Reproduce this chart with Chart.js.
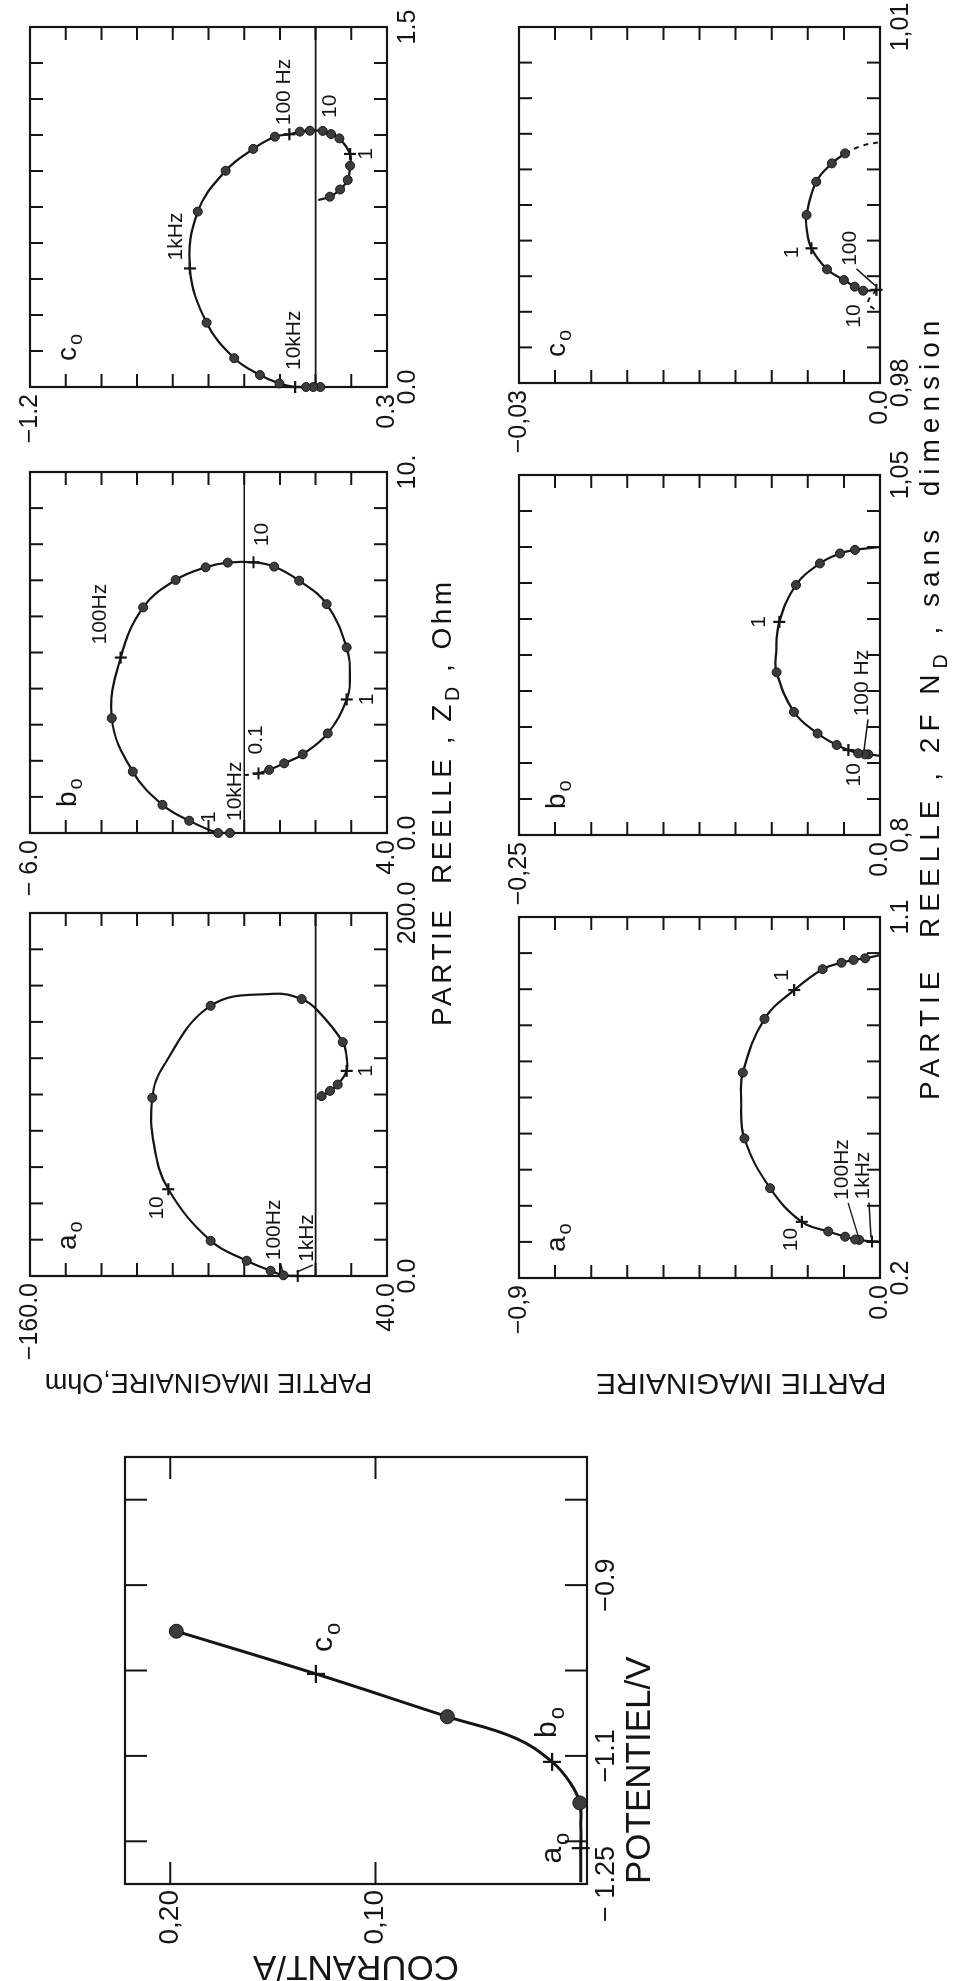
<!DOCTYPE html>
<html lang="fr">
<head>
<meta charset="utf-8">
<title>Courant et diagrammes d'impedance</title>
<script src="https://cdn.jsdelivr.net/npm/chart.js@4.4.1/dist/chart.umd.min.js"></script>
<style>
  html, body { margin: 0; padding: 0; background: #fff; }
  body { width: 958px; height: 1981px; overflow: hidden; position: relative; }
  /* the whole figure is laid out landscape, then turned a quarter left like the scan */
  #fig { position: absolute; left: 0; top: 0; width: 1981px; height: 958px;
         transform-origin: 0 0; transform: translate(0, 1981px) rotate(-90deg);
         font-family: "Liberation Sans", Arial, sans-serif; color: #111; }
  #fig canvas { position: absolute; }
  .xtitle { position: absolute; white-space: nowrap; line-height: 34px; font-size: 28px; }
  .xtitle sub { font-size: 70%; vertical-align: -0.4em; line-height: 0; }
  #zTitle { left: 955px; top: 425px; letter-spacing: 3.5px; }
  #nTitle { left: 881px; top: 913px; letter-spacing: 6px; }
</style>
</head>
<body>
<div id="fig">
  <canvas id="cour"></canvas>
  <canvas id="za"></canvas>
  <canvas id="zb"></canvas>
  <canvas id="zc"></canvas>
  <canvas id="na"></canvas>
  <canvas id="nb"></canvas>
  <canvas id="nc"></canvas>
  <div class="xtitle" id="zTitle">PARTIE&nbsp; REELLE , Z<sub>D</sub> , Ohm</div>
  <div class="xtitle" id="nTitle">PARTIE&nbsp; REELLE , 2F N<sub>D</sub> , sans&nbsp; dimension</div>
</div>
<script>
// ---- courant / potentiel
const courPot = [-1.248, -1.208, -1.18, -1.155, -1.132, -1.107, -1.079, -1.054, -1.004, -0.954];
const courCur = [0.0, 0.0, 0.0, 0.0005, 0.005, 0.014, 0.032, 0.065, 0.129, 0.197];
const courKind = ['', '+', '', 'o', '', '+', '', 'o', '+', 'o'];
const courTag = ['', 'a', '', '', '', 'b', '', '', 'c', ''];
const courXTicks = [-1.25, -1.2, -1.1, -1.0, -0.9, -0.8];
const courXLab = ['\u2212 1.25', '', '\u22121.1', '', '\u22120.9', ''];
const courYTicks = [0.1, 0.2];
const courYLab = ['0,10', '0,20'];

// ---- impedance Z_D (partie reelle, partie imaginaire)
const zaRe = [0, 0.4, 2.9, 8.4, 19.4, 47.8, 72, 98.2, 115.6, 148.9, 155.5, 152.6, 146.7, 128.9, 120.2, 113.0, 105.5, 102.0, 99.1, 97.7];
const zaIm = [-10, -18, -25.2, -38.6, -58.8, -82.5, -90.5, -91.5, -85.3, -58.8, -23.7, -7.8, 0.7, 15.2, 17.4, 17.4, 12.4, 8.1, 3.4, 0.6];
const zaKind = ['+', 'o', 'o', 'o', 'o', '+', '', 'o', '', 'o', '', 'o', '', 'o', '', '+', 'o', 'o', 'o', ''];
const zaFreq = ['1kHz', '100Hz', '', '', '', '10', '', '', '', '', '', '', '', '', '', '1', '', '', '', ''];

const zbRe = [0.0, 0.0, 0.34, 0.78, 1.70, 3.18, 4.86, 6.25, 7.01, 7.36, 7.49, 7.50, 7.38, 6.99, 6.34, 5.14, 4.33, 3.70, 2.76, 2.18, 1.93, 1.75, 1.65];
const zbIm = [-0.40, -0.73, -1.54, -2.29, -3.12, -3.71, -3.46, -2.83, -1.92, -1.08, -0.46, 0.26, 0.84, 1.54, 2.31, 2.87, 2.96, 2.87, 2.34, 1.64, 1.12, 0.70, 0.40];
const zbKind = ['o', 'o', 'o', 'o', 'o', 'o', '+', 'o', 'o', 'o', 'o', '+', 'o', 'o', 'o', 'o', '', '+', 'o', 'o', 'o', 'o', '+'];
const zbFreq = ['10kHz', '1', '', '', '', '', '100Hz', '', '', '', '', '10', '', '', '', '', '', '1', '', '', '', '', '0.1'];
const zbDashRe = [1.65, 1.60];
const zbDashIm = [0.40, 0.0];

const zcRe = [0.0, 0.0, 0.0, 0.0, 0.015, 0.05, 0.12, 0.268, 0.494, 0.731, 0.901, 0.992, 1.043, 1.053, 1.064, 1.068, 1.067, 1.054, 1.036, 0.971, 0.922, 0.8625, 0.823, 0.793, 0.779];
const zcIm = [0.02, -0.01, -0.04, -0.086, -0.152, -0.234, -0.342, -0.458, -0.528, -0.495, -0.378, -0.262, -0.171, -0.11, -0.066, -0.024, 0.030, 0.065, 0.100, 0.145, 0.145, 0.135, 0.103, 0.060, 0.011];
const zcKind = ['o', 'o', 'o', '+', 'o', 'o', 'o', 'o', '+', 'o', 'o', 'o', 'o', '+', 'o', 'o', 'o', 'o', 'o', '+', 'o', 'o', 'o', 'o', ''];
const zcFreq = ['', '', '', '10kHz', '', '', '', '', '1kHz', '', '', '', '', '100 Hz', '', '', '10', '', '', '1', '', '', '', '', ''];

// ---- fonction de transfert 2F N_D
const naRe = [0.290, 0.291, 0.295, 0.296, 0.303, 0.316, 0.340, 0.424, 0.548, 0.644, 0.712, 0.846, 0.918, 0.970, 0.986, 0.993, 0.997, 1.005];
const naIm = [0.0, -0.020, -0.052, -0.062, -0.087, -0.129, -0.195, -0.274, -0.338, -0.346, -0.342, -0.288, -0.214, -0.143, -0.096, -0.066, -0.037, 0.0];
const naKind = ['', '+', 'o', 'o', 'o', 'o', '+', 'o', 'o', '', 'o', 'o', '+', 'o', 'o', 'o', 'o', ''];
const naFreq = ['', '1kHz', '100Hz', '', '', '', '10', '', '', '', '', '', '1', '', '', '', '', ''];

const nbRe = [0.855, 0.856, 0.856, 0.8567, 0.859, 0.8625, 0.8705, 0.8855, 0.913, 0.926, 0.948, 0.9736, 0.9886, 0.9955, 0.998, 1.000];
const nbIm = [0.0, -0.0081, -0.0104, -0.0151, -0.0219, -0.0300, -0.0432, -0.0596, -0.0716, -0.0720, -0.0697, -0.0582, -0.0416, -0.0277, -0.0173, 0.0];
const nbKind = ['', 'o', 'o', 'o', '+', 'o', 'o', 'o', 'o', '', '+', 'o', 'o', 'o', 'o', ''];
const nbFreq = ['', '', '100 Hz', '', '10', '', '', '', '', '', '1', '', '', '', '', ''];

const ncRe = [0.98785, 0.98778, 0.98812, 0.98868, 0.98958, 0.99135, 0.9930, 0.99416, 0.99696, 0.99851, 0.99935];
const ncIm = [-0.0003, -0.0014, -0.0021, -0.0030, -0.0044, -0.0057, -0.0061, -0.0061, -0.0053, -0.0040, -0.0029];
const ncKind = ['+', 'o', 'o', 'o', 'o', '+', '', 'o', 'o', 'o', 'o'];
const ncFreq = ['100', '', '', '', '', '1', '', '', '', '', ''];
const ncDashRe = [0.99935, 1.0000, 1.0003];
const ncDashIm = [-0.0029, -0.0015, 0.0];
const ncLoopRe = [0.98785, 0.9868, 0.98615];
const ncLoopIm = [-0.0003, -0.0010, -0.0004];
const ncLoopFreq = ['', '', '10'];

// ---- axes: tick positions and end labels
const zaXTicks = [0, 20, 40, 60, 80, 100, 120, 140, 160, 180, 200];
const zaYTicks = [-160, -140, -120, -100, -80, -60, -40, -20, 0, 20, 40];
const zbXTicks = [0, 1, 2, 3, 4, 5, 6, 7, 8, 9, 10];
const zbYTicks = [-6, -5, -4, -3, -2, -1, 0, 1, 2, 3, 4];
const zcXTicks = [0, 0.15, 0.3, 0.45, 0.6, 0.75, 0.9, 1.05, 1.2, 1.35, 1.5];
const zcYTicks = [-1.2, -1.05, -0.9, -0.75, -0.6, -0.45, -0.3, -0.15, 0, 0.15, 0.3];
const naXTicks = [0.2, 0.29, 0.38, 0.47, 0.56, 0.65, 0.74, 0.83, 0.92, 1.01, 1.1];
const naYTicks = [-0.9, -0.81, -0.72, -0.63, -0.54, -0.45, -0.36, -0.27, -0.18, -0.09, 0];
const nbXTicks = [0.8, 0.825, 0.85, 0.875, 0.9, 0.925, 0.95, 0.975, 1.0, 1.025, 1.05];
const nbYTicks = [-0.25, -0.225, -0.2, -0.175, -0.15, -0.125, -0.1, -0.075, -0.05, -0.025, 0];
const ncXTicks = [0.98, 0.983, 0.986, 0.989, 0.992, 0.995, 0.998, 1.001, 1.004, 1.007, 1.01];
const ncYTicks = [-0.03, -0.027, -0.024, -0.021, -0.018, -0.015, -0.012, -0.009, -0.006, -0.003, 0];
const zaXEnds = ['0.0', '200.0'], zaYEnds = ['\u2212160.0', '40.0'];
const zbXEnds = ['0.0', '10.'], zbYEnds = ['\u2212 6.0', '4.0'];
const zcXEnds = ['0.0', '1.5'], zcYEnds = ['\u22121.2', '0.3'];
const naXEnds = ['0.2', '1.1'], naYEnds = ['\u22120,9', '0.0'];
const nbXEnds = ['0,8', '1,05'], nbYEnds = ['\u22120,25', '0.0'];
const ncXEnds = ['0,98', '1,01'], ncYEnds = ['\u22120,03', '0.0'];

// ---- placement (landscape frame, px) and label offsets
const G = {
  cour: {x0: 97, x1: 524, y0: 125, y1: 587, L: 103, T: 30, R: 20, B: 74},
  za: {x0: 705, x1: 1068, y0: 30, y1: 387, L: 122, T: 30, R: 45, B: 50},
  zb: {x0: 1148, x1: 1509, y0: 30, y1: 387, L: 70, T: 30, R: 45, B: 50},
  zc: {x0: 1594, x1: 1954, y0: 30, y1: 387, L: 70, T: 30, R: 45, B: 50},
  na: {x0: 703, x1: 1064, y0: 519, y1: 880, L: 122, T: 30, R: 45, B: 50},
  nb: {x0: 1146, x1: 1506, y0: 519, y1: 880, L: 70, T: 30, R: 45, B: 50},
  nc: {x0: 1598, x1: 1954, y0: 519, y1: 880, L: 70, T: 30, R: 45, B: 50}
};
const OFF = {
  cour: {1: [0, -28, 'center'], 5: [24, -4, 'left'], 8: [22, 8, 'left']},
  za: {0: [14, 9, 'left', 1], 1: [15, -9, 'left', 1], 5: [-7, -11, 'right'], 15: [0, 20, 'center']},
  zb: {0: [12, 5, 'left'], 1: [10, -9, 'left'], 6: [13, -20, 'left'], 11: [16, 9, 'left'], 17: [0, 21, 'center'], 22: [19, -2, 'left']},
  zc: {3: [17, -1, 'left'], 8: [8, -14, 'left'], 13: [9, -5, 'left'], 16: [13, 7, 'left'], 19: [0, 16, 'center']},
  na: {1: [42, -9, 'left', 1], 2: [40, -17, 'left', 1], 6: [-6, -11, 'right'], 12: [9, -12, 'left']},
  nb: {2: [38, -3, 'left', 1], 4: [-13, 6, 'right'], 10: [0, -20, 'center']},
  nc: {0: [24, -26, 'left', 1], 5: [-4, -19, 'center']},
  ncLoop: {2: [-6, -21, 'center']}
};

const INK = '#151515', DOT = '#3c3c3c';
const FONT = '"Liberation Sans", Arial, sans-serif';
Chart.defaults.font.family = FONT;
Chart.defaults.color = INK;

function pts(xs, ys) { return xs.map((x, i) => ({x: x, y: ys[i]})); }

function notesFor(xs, ys, texts, off, tag) {
  const out = [];
  texts.forEach((t, i) => {
    if (!t) return;
    const o = off[i] || [8, -10, 'left'];
    out.push({x: xs[i], y: ys[i], text: t, dx: o[0], dy: o[1], align: o[2], leader: !!o[3], tag: !!tag});
  });
  return out;
}

// letter with a small "o" underneath-right, like a0 b0 c0
function drawTag(ctx, letter, x, y, size, align) {
  ctx.font = size + 'px ' + FONT;
  const w1 = ctx.measureText(letter).width;
  ctx.font = Math.round(size * 0.72) + 'px ' + FONT;
  const w2 = ctx.measureText('o').width;
  let left = x;
  if (align === 'center') left = x - (w1 + w2 + 2) / 2;
  if (align === 'right') left = x - (w1 + w2 + 2);
  ctx.textAlign = 'left';
  ctx.font = size + 'px ' + FONT;
  ctx.fillText(letter, left, y);
  ctx.font = Math.round(size * 0.72) + 'px ' + FONT;
  ctx.fillText('o', left + w1 + 2, y + size * 0.32);
}

function framePlugin(o) {
  return {
    id: 'frame',
    beforeDatasetsDraw(chart) {
      const ctx = chart.ctx, a = chart.chartArea, sx = chart.scales.x, sy = chart.scales.y;
      ctx.save();
      ctx.strokeStyle = INK;
      if (o.zero) {
        const py = sy.getPixelForValue(0);
        ctx.lineWidth = 1.6;
        ctx.beginPath(); ctx.moveTo(a.left, py); ctx.lineTo(a.right, py); ctx.stroke();
      }
      ctx.lineWidth = 2.2;
      ctx.strokeRect(a.left, a.top, a.right - a.left, a.bottom - a.top);
      ctx.lineWidth = 2;
      ctx.beginPath();
      const tl = o.tick;
      const edge = (v, s) => Math.abs(v - s.min) < 1e-9 || Math.abs(v - s.max) < 1e-9;
      sx.ticks.forEach(t => {
        if (edge(t.value, sx)) return;
        const px = sx.getPixelForValue(t.value);
        ctx.moveTo(px, a.bottom); ctx.lineTo(px, a.bottom - tl);
        ctx.moveTo(px, a.top); ctx.lineTo(px, a.top + tl);
      });
      sy.ticks.forEach(t => {
        if (edge(t.value, sy)) return;
        const py = sy.getPixelForValue(t.value);
        ctx.moveTo(a.left, py); ctx.lineTo(a.left + tl, py);
        ctx.moveTo(a.right, py); ctx.lineTo(a.right - tl, py);
      });
      ctx.stroke();
      ctx.restore();
    },
    afterDatasetsDraw(chart) {
      const ctx = chart.ctx, a = chart.chartArea, sx = chart.scales.x, sy = chart.scales.y;
      ctx.save();
      ctx.fillStyle = INK; ctx.strokeStyle = INK; ctx.textBaseline = 'middle';
      if (o.tag) drawTag(ctx, o.tag, a.left + 26, a.top + 38, 28, 'left');
      (o.notes || []).forEach(n => {
        const px = sx.getPixelForValue(n.x), py = sy.getPixelForValue(n.y);
        const tx = px + n.dx, ty = py + n.dy;
        if (n.tag) {
          drawTag(ctx, n.text, tx, ty, o.tagSize || 30, n.align);
        } else {
          ctx.font = (o.noteSize || 21) + 'px ' + FONT;
          ctx.textAlign = n.align;
          ctx.fillText(n.text, tx, ty);
        }
        if (n.leader) {
          ctx.lineWidth = 1.5;
          ctx.beginPath(); ctx.moveTo(px + 4, py - 1); ctx.lineTo(tx - 3, ty + 6); ctx.stroke();
        }
      });
      ctx.restore();
    }
  };
}

function curve(xs, ys, kind, dotR, crossR, lw) {
  return {
    data: pts(xs, ys), showLine: true, tension: 0.4, borderColor: INK, borderWidth: lw, clip: 14,
    pointStyle: kind.map(k => k === '+' ? 'cross' : 'circle'),
    pointRadius: kind.map(k => k === 'o' ? dotR : (k === '+' ? crossR : 0)),
    pointBorderWidth: kind.map(k => k === '+' ? 2.2 : 1),
    pointBackgroundColor: DOT, pointBorderColor: INK, pointHoverRadius: 0
  };
}
function dashed(xs, ys) {
  return {data: pts(xs, ys), showLine: true, tension: 0.4, borderColor: INK, borderWidth: 2,
          borderDash: [5, 5], pointRadius: 0, pointHoverRadius: 0, clip: 14};
}

function axis(s, size, which) {
  return {
    type: 'linear', min: s.min, max: s.max, reverse: !!s.reverse,
    afterBuildTicks: sc => { sc.ticks = s.ticks.map(v => ({value: v})); },
    afterFit: sc => { if (which === 'x') sc.height = size; else sc.width = size; },
    grid: {display: false, drawTicks: false},
    border: {display: false},
    ticks: {
      autoSkip: false, maxRotation: 0, minRotation: 0, padding: s.pad, color: INK,
      font: {size: s.fs},
      callback: (v, i) => s.labels ? s.labels[i] : (i === 0 ? s.ends[0] : (i === s.ticks.length - 1 ? s.ends[1] : ''))
    },
    title: s.title
      ? {display: true, text: s.title, color: INK, padding: 0, align: s.talign || 'center', font: {size: s.tfs}}
      : {display: false}
  };
}

function panel(id, g, sx, sy, sets, extra) {
  const cv = document.getElementById(id);
  const W = g.x1 - g.x0 + g.L + g.R, H = g.y1 - g.y0 + g.T + g.B;
  cv.width = W; cv.height = H;
  cv.style.width = W + 'px'; cv.style.height = H + 'px';
  cv.style.left = (g.x0 - g.L) + 'px'; cv.style.top = (g.y0 - g.T) + 'px';
  return new Chart(cv, {
    type: 'scatter',
    data: {datasets: sets},
    options: {
      responsive: false, animation: false, devicePixelRatio: 1,
      layout: {padding: {left: 0, top: g.T, right: g.R, bottom: 0}},
      plugins: {legend: {display: false}, tooltip: {enabled: false}},
      scales: {x: axis(sx, g.B, 'x'), y: axis(sy, g.L, 'y')}
    },
    plugins: [framePlugin(extra)]
  });
}

// courant / potentiel
panel('cour', G.cour,
  {min: -1.25, max: -0.75, ticks: courXTicks, labels: courXLab, pad: 3, fs: 27, title: 'POTENTIEL/V', tfs: 35, talign: 'start'},
  {min: -0.003, max: 0.222, ticks: courYTicks, labels: courYLab, pad: 6, fs: 28, title: 'COURANT/A', tfs: 35},
  [curve(courPot, courCur, courKind, 7, 9, 3)],
  {tick: 22, notes: notesFor(courPot, courCur, courTag, OFF.cour, true), tagSize: 30});

// Z_D panels
const zX = {pad: 6, fs: 25}, zY = {pad: 7, fs: 25};
panel('za', G.za,
  Object.assign({min: 0, max: 200, ticks: zaXTicks, ends: zaXEnds}, zX),
  Object.assign({min: -160, max: 40, reverse: true, ticks: zaYTicks, ends: zaYEnds, title: 'PARTIE IMAGINAIRE,Ohm', tfs: 27}, zY),
  [curve(zaRe, zaIm, zaKind, 4.5, 6, 2.2)],
  {tick: 13, zero: true, tag: 'a', notes: notesFor(zaRe, zaIm, zaFreq, OFF.za)});
panel('zb', G.zb,
  Object.assign({min: 0, max: 10, ticks: zbXTicks, ends: zbXEnds}, zX),
  Object.assign({min: -6, max: 4, reverse: true, ticks: zbYTicks, ends: zbYEnds}, zY),
  [curve(zbRe, zbIm, zbKind, 4.5, 6, 2.2), dashed(zbDashRe, zbDashIm)],
  {tick: 13, zero: true, tag: 'b', notes: notesFor(zbRe, zbIm, zbFreq, OFF.zb)});
panel('zc', G.zc,
  Object.assign({min: 0, max: 1.5, ticks: zcXTicks, ends: zcXEnds}, zX),
  Object.assign({min: -1.2, max: 0.3, reverse: true, ticks: zcYTicks, ends: zcYEnds}, zY),
  [curve(zcRe, zcIm, zcKind, 4.5, 6, 2.2)],
  {tick: 13, zero: true, tag: 'c', notes: notesFor(zcRe, zcIm, zcFreq, OFF.zc)});

// 2F N_D panels (the y title is padded so it sits a little lower, as in the scan)
panel('na', G.na,
  Object.assign({min: 0.2, max: 1.1, ticks: naXTicks, ends: naXEnds}, zX),
  Object.assign({min: -0.9, max: 0, reverse: true, ticks: naYTicks, ends: naYEnds, title: 'PARTIE IMAGINAIRE          ', tfs: 30}, zY),
  [curve(naRe, naIm, naKind, 4.5, 6, 2.2)],
  {tick: 13, tag: 'a', notes: notesFor(naRe, naIm, naFreq, OFF.na)});
panel('nb', G.nb,
  Object.assign({min: 0.8, max: 1.05, ticks: nbXTicks, ends: nbXEnds}, zX),
  Object.assign({min: -0.25, max: 0, reverse: true, ticks: nbYTicks, ends: nbYEnds}, zY),
  [curve(nbRe, nbIm, nbKind, 4.5, 6, 2.2)],
  {tick: 13, tag: 'b', notes: notesFor(nbRe, nbIm, nbFreq, OFF.nb)});
panel('nc', G.nc,
  Object.assign({min: 0.98, max: 1.01, ticks: ncXTicks, ends: ncXEnds}, zX),
  Object.assign({min: -0.03, max: 0, reverse: true, ticks: ncYTicks, ends: ncYEnds}, zY),
  [curve(ncRe, ncIm, ncKind, 4.5, 6, 2.2), dashed(ncDashRe, ncDashIm), dashed(ncLoopRe, ncLoopIm)],
  {tick: 13, tag: 'c', notes: notesFor(ncRe, ncIm, ncFreq, OFF.nc).concat(notesFor(ncLoopRe, ncLoopIm, ncLoopFreq, OFF.ncLoop))});
</script>
</body>
</html>
